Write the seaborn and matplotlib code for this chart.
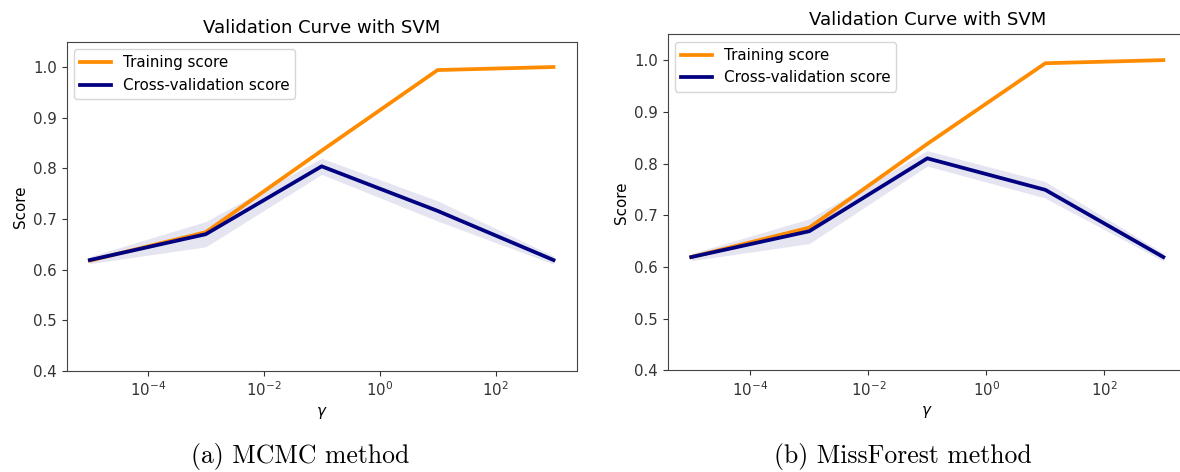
import numpy as np
import pandas as pd
import matplotlib
matplotlib.use('Agg')
import matplotlib.pyplot as plt
import seaborn as sns
from matplotlib.ticker import NullLocator

# ++++++++++++++++++++++++++++++++++++++++++++++++++++++++++++++++++++ Data
gamma = [1e-5, 1e-3, 1e-1, 1e1, 1e3]
x_ticks = [1e-4, 1e-2, 1e0, 1e2]
y_ticks = [0.4, 0.5, 0.6, 0.7, 0.8, 0.9, 1.0]

# (a) MCMC method
mcmc_train_mean = [0.618, 0.674, 0.835, 0.994, 1.000]
mcmc_train_std = [0.003, 0.004, 0.003, 0.002, 0.001]
mcmc_cv_mean = [0.619, 0.670, 0.804, 0.716, 0.619]
mcmc_cv_std = [0.007, 0.025, 0.016, 0.020, 0.008]

# (b) MissForest method
mf_train_mean = [0.619, 0.676, 0.838, 0.994, 1.000]
mf_train_std = [0.003, 0.004, 0.003, 0.002, 0.001]
mf_cv_mean = [0.619, 0.669, 0.810, 0.749, 0.619]
mf_cv_std = [0.007, 0.024, 0.015, 0.016, 0.008]

captions = ['(a) MCMC method', '(b) MissForest method']

# ++++++++++++++++++++++++++++++++++++++++++++++++++++++++++++++++++++ Plot
plt.rcParams['font.family'] = ['DejaVu Sans']
fig = plt.figure(figsize=(11.8, 4.72), dpi=100)

ax1 = fig.add_axes([0.0565, 0.2140, 0.4322, 0.6977])
ax2 = fig.add_axes([0.5658, 0.2155, 0.4401, 0.7119])


def draw(ax, tr_m, tr_s, cv_m, cv_s):
    df = pd.DataFrame({'gamma': gamma, 'train': tr_m, 'cv': cv_m})
    lw = 2.7
    sns.lineplot(data=df, x='gamma', y='train', ax=ax, color='darkorange',
                 lw=lw, label='Training score')
    ax.fill_between(gamma, np.array(tr_m) - np.array(tr_s),
                    np.array(tr_m) + np.array(tr_s),
                    alpha=0.2, color='darkorange', lw=0)
    sns.lineplot(data=df, x='gamma', y='cv', ax=ax, color='navy',
                 lw=lw, label='Cross-validation score')
    ax.fill_between(gamma, np.array(cv_m) - np.array(cv_s),
                    np.array(cv_m) + np.array(cv_s),
                    alpha=0.1, color='navy', lw=0)
    ax.set_xscale('log')
    ax.set_xticks(x_ticks)
    ax.xaxis.set_minor_locator(NullLocator())
    ax.set_yticks(y_ticks)
    ax.set_ylim(0.4, 1.05)
    ax.set_title('Validation Curve with SVM', fontsize=13, pad=6.6)
    ax.set_xlabel(r'$\gamma$', fontsize=10.9)
    ax.set_ylabel('Score', fontsize=10.9)
    ax.tick_params(labelsize=10.8, colors='#333333', labelcolor='#333333')
    for s in ax.spines.values():
        s.set_color('#444444')
    ax.legend(loc='upper left', fontsize=10.9)


draw(ax1, mcmc_train_mean, mcmc_train_std, mcmc_cv_mean, mcmc_cv_std)
draw(ax2, mf_train_mean, mf_train_std, mf_cv_mean, mf_cv_std)

fig.text(300 / 1180, 1 - 457 / 472, captions[0], family='cmr10',
         fontsize=18.5, ha='center', va='center')
fig.text(903 / 1180, 1 - 457 / 472, captions[1], family='cmr10',
         fontsize=18.5, ha='center', va='center')

plt.savefig('out.png', dpi=100)
